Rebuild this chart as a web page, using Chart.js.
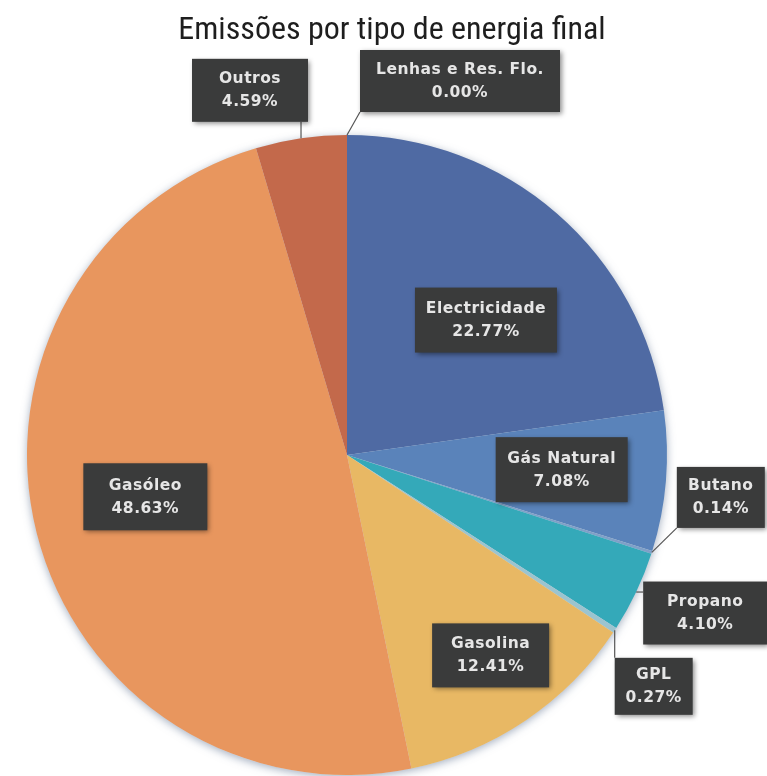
<!DOCTYPE html>
<html>
<head>
<meta charset="utf-8">
<title>Emissões por tipo de energia final</title>
<script src="https://cdn.jsdelivr.net/npm/chart.js@4.4.1/dist/chart.umd.min.js"></script>
<style>
  html, body { margin: 0; padding: 0; background: #fff; }
  #wrap { width: 767px; height: 776px; position: relative; }
</style>
</head>
<body>
<div id="wrap"><canvas id="pieChart"></canvas></div>
<script>
// Data (shares of emissions, %)
const categories = ['Electricidade', 'Gás Natural', 'Butano', 'Propano', 'GPL', 'Gasolina', 'Gasóleo', 'Outros', 'Lenhas e Res. Flo.'];
const shares = [22.77, 7.08, 0.14, 4.10, 0.27, 12.41, 48.63, 4.59, 0.00];
const sliceColors = ['#4f6aa3', '#5a83ba', '#7fa0c8', '#34a9b9', '#9cc4cf', '#e8b864', '#e8965e', '#c3694b', '#8a8a8a'];

// Label placement: radial factor from centre plus a nudge, box size, leader on/off
const labelLayout = [
  { f: 0.60, dx: 13,  dy: 10,  w: 142, h: 65, leader: false },
  { f: 0.67, dx: 1,   dy: -3,  w: 132, h: 65, leader: false },
  { f: 1.00, dx: 69,  dy: -55, w: 88,  h: 61, leader: true },
  { f: 1.00, dx: 69,  dy: 21,  w: 124, h: 63, leader: true },
  { f: 1.00, dx: 39,  dy: 56,  w: 78,  h: 57, leader: true },
  { f: 0.77, dx: 6,   dy: -4,  w: 117, h: 64, leader: false },
  { f: 0.64, dx: -3,  dy: -8,  w: 124, h: 67, leader: false },
  { f: 1.00, dx: -51, dy: -48, w: 116, h: 63, leader: true },
  { f: 1.00, dx: 113, dy: -54, w: 200, h: 62, leader: true }
];

const titleText = 'Emissões por tipo de energia final';

// soft halo behind the pie
const pieShadow = {
  id: 'pieShadow',
  beforeDatasetsDraw(chart) {
    const arc = chart.getDatasetMeta(0).data[0];
    if (!arc) return;
    const ctx = chart.ctx;
    ctx.save();
    ctx.shadowColor = 'rgba(90, 110, 140, 0.55)';
    ctx.shadowBlur = 9;
    ctx.shadowOffsetX = 0;
    ctx.shadowOffsetY = 2;
    ctx.fillStyle = '#d9dde3';
    ctx.beginPath();
    ctx.arc(arc.x, arc.y, arc.outerRadius, 0, Math.PI * 2);
    ctx.fill();
    ctx.restore();
  }
};

// title + dark callout boxes
const callouts = {
  id: 'callouts',
  afterDatasetsDraw(chart) {
    const ctx = chart.ctx;
    const meta = chart.getDatasetMeta(0);

    ctx.save();
    ctx.fillStyle = '#1e1e1e';
    ctx.font = '32px "Liberation Sans Narrow", "Roboto Condensed", "Liberation Sans", sans-serif';
    ctx.textAlign = 'center';
    ctx.textBaseline = 'alphabetic';
    ctx.fillText(titleText, 392, 39);
    ctx.restore();

    meta.data.forEach((arc, i) => {
      const lay = labelLayout[i];
      const mid = (arc.startAngle + arc.endAngle) / 2;
      const ex = arc.x + Math.cos(mid) * arc.outerRadius;
      const ey = arc.y + Math.sin(mid) * arc.outerRadius;
      const cx = arc.x + Math.cos(mid) * arc.outerRadius * lay.f + lay.dx;
      const cy = arc.y + Math.sin(mid) * arc.outerRadius * lay.f + lay.dy;
      const left = cx - lay.w / 2, top = cy - lay.h / 2;

      ctx.save();
      if (lay.leader) {
        const px = Math.min(Math.max(ex, left), left + lay.w);
        const py = Math.min(Math.max(ey, top), top + lay.h);
        ctx.strokeStyle = '#555';
        ctx.lineWidth = 1.2;
        ctx.beginPath();
        ctx.moveTo(ex, ey);
        ctx.lineTo(px, py);
        ctx.stroke();
      }
      ctx.shadowColor = 'rgba(0,0,0,0.45)';
      ctx.shadowBlur = 5;
      ctx.shadowOffsetX = 2;
      ctx.shadowOffsetY = 2;
      ctx.fillStyle = '#3a3b3b';
      ctx.fillRect(left, top, lay.w, lay.h);
      ctx.restore();

      ctx.save();
      ctx.fillStyle = '#e6e6e6';
      ctx.font = 'bold 15.5px "DejaVu Sans", Verdana, sans-serif';
      ctx.letterSpacing = '0.5px';
      ctx.textAlign = 'center';
      ctx.textBaseline = 'middle';
      ctx.fillText(categories[i], cx, cy - 11);
      ctx.fillText(shares[i].toFixed(2) + '%', cx, cy + 12);
      ctx.restore();
    });
  }
};

const ctxPie = document.getElementById('pieChart').getContext('2d');
new Chart(ctxPie, {
  type: 'pie',
  data: {
    labels: categories,
    datasets: [{
      data: shares,
      backgroundColor: sliceColors,
      borderWidth: 0
    }]
  },
  options: {
    responsive: true,
    maintainAspectRatio: false,
    animation: false,
    layout: { padding: { left: 27, right: 100, top: 135, bottom: 1 } },
    plugins: {
      legend: { display: false },
      tooltip: { enabled: false },
      title: { display: false }
    }
  },
  plugins: [pieShadow, callouts]
});
</script>
</body>
</html>
